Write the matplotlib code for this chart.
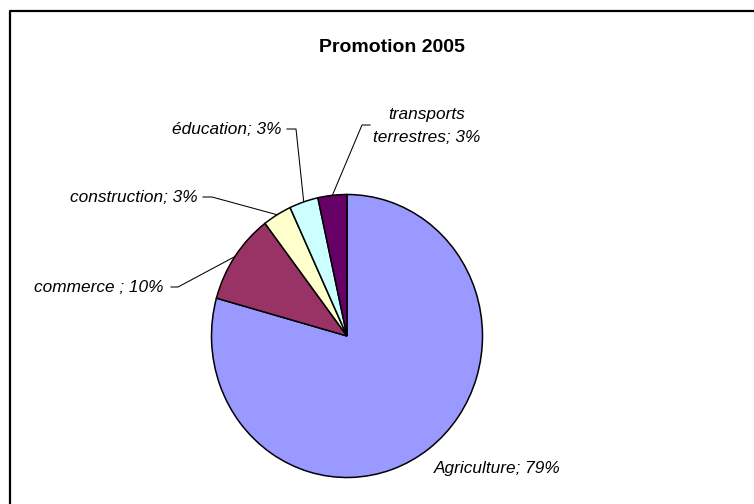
import matplotlib
matplotlib.use('Agg')
import numpy as np
import matplotlib.pyplot as plt

# effectifs par secteur (promotion 2005)
secteurs = ['Agriculture', 'commerce ', 'construction', 'éducation', 'transports\nterrestres']
effectifs = [23, 3, 1, 1, 1]
couleurs = ['#9999FF', '#993366', '#FFFFCC', '#CCFFFF', '#660066']

# position des étiquettes (px, origine en haut à gauche) et coudes des traits de rappel
etiq_xy = [(497, 469), (164, 287), (198, 197), (282, 129), (427, 126)]
etiq_ha = ['center', 'right', 'right', 'right', 'center']
coudes = [None, [(171, 287), (178, 287)], [(203, 197), (212, 197)],
          [(287, 129), (296, 129)], [(370, 125), (362, 125)]]

W, H = 754, 504
fig = plt.figure(figsize=(W / 100, H / 100), dpi=100)

# calque en pixels pour le cadre, le titre et les étiquettes
ov = fig.add_axes([0, 0, 1, 1])
ov.set_xlim(0, W)
ov.set_ylim(H, 0)
ov.axis('off')

ov.plot([10, 10, W + 5], [H + 5, 11, 11], color='black', lw=1.6, clip_on=False)
ov.text(392, 48, 'Promotion 2005', ha='center', va='center', fontsize=14,
        fontweight='bold', family='Liberation Sans')

# camembert (légèrement ovale comme à l'origine)
ax = fig.add_axes([211.5 / W, (H - 477.5) / H, 271 / W, 283 / H])
wedges, _ = ax.pie(effectifs, colors=couleurs, startangle=90, counterclock=False,
                   wedgeprops=dict(edgecolor='black', linewidth=1.1))
ax.set_aspect('auto')
ax.set_xlim(-1, 1)
ax.set_ylim(-1, 1)

total = sum(effectifs)
fig.canvas.draw()
inv = ov.transData.inverted()
for i, (nom, n) in enumerate(zip(secteurs, effectifs)):
    pct = round(100 * n / total)
    x, y = etiq_xy[i]
    ov.text(x, y, f'{nom}; {pct}%', ha=etiq_ha[i], va='center', fontsize=12.4,
            style='italic', family='Liberation Sans', linespacing=1.7)
    if coudes[i] is None:
        continue
    w = wedges[i]
    theta = np.deg2rad((w.theta1 + w.theta2) / 2)
    ancre = inv.transform(ax.transData.transform((np.cos(theta), np.sin(theta))))
    pts = coudes[i] + [tuple(ancre)]
    ov.plot([p[0] for p in pts], [p[1] for p in pts], color='black', lw=0.75)

fig.savefig('out.png', dpi=100)
